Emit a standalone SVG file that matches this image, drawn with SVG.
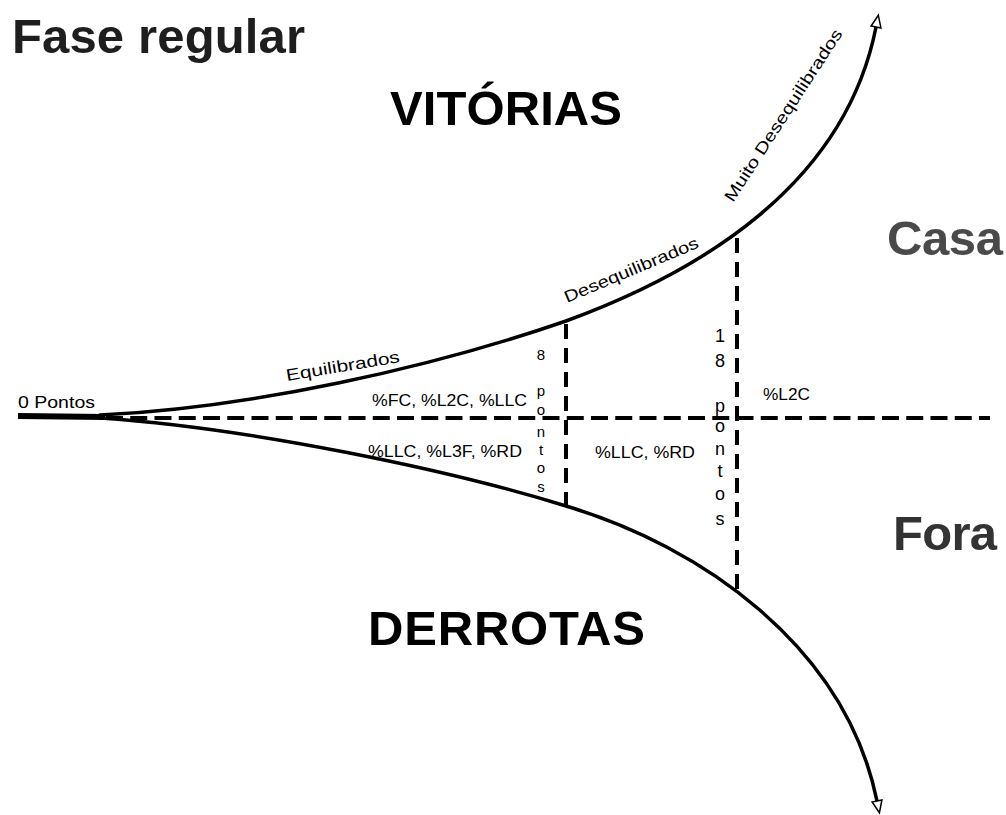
<svg xmlns="http://www.w3.org/2000/svg" width="1006" height="815" viewBox="0 0 1006 815">
<style>
text{font-family:"Liberation Sans",Arial,sans-serif;fill:#000}
.big{font-size:49px;font-weight:bold}
.lbl{font-size:16.5px}
.col1{font-size:15px;text-anchor:middle}
.col2{font-size:18px;text-anchor:middle}
.curve{fill:none;stroke:#000;stroke-width:3.5;stroke-linecap:round}
.dash{fill:none;stroke:#000;stroke-width:4}
</style>
<defs>
<marker id="arr" markerUnits="userSpaceOnUse" markerWidth="16" markerHeight="16" viewBox="-2 -8 16 16" refX="0" refY="0" orient="auto">
<path d="M0,-5 L12,0 L0,5 Z" fill="#fff" stroke="#000" stroke-width="1.5"/>
</marker>
</defs>
<rect width="1006" height="815" fill="#fff"/>
<g id="titles">
<text class="big" x="12" y="53" style="fill:#1e1e1e" textLength="293">Fase regular</text>
<text id="vitorias" class="big" x="390" y="125" textLength="232">VITÓRIAS</text>
<text id="derrotas" class="big" x="368" y="645" textLength="277">DERROTAS</text>
<text id="casa" class="big" x="887" y="255" style="fill:#4a4a4a" textLength="116">Casa</text>
<text id="fora" class="big" x="893" y="550" style="fill:#333" textLength="104">Fora</text>
</g>
<g id="connectors">
<path d="M18,416 L105,417" stroke="#000" stroke-width="6" fill="none"/>
<path id="upper" class="curve" d="M100,415 C250,408 430,368 566,321 C700,272 845,185 876,27" marker-end="url(#arr)"/>
<path id="lower" class="curve" d="M100,418 C250,428 450,470 566,506 C700,546 845,645 877,801" marker-end="url(#arr)"/>
<line class="dash" x1="106" y1="418" x2="990" y2="418" stroke-dasharray="17 7.25"/>
<line class="dash" x1="566" y1="324" x2="566" y2="505" stroke-dasharray="15 9"/>
<line class="dash" x1="737" y1="238" x2="737" y2="590" stroke-dasharray="15 9"/>
</g>
<g id="labels">
<text class="lbl" x="18" y="408" textLength="77" lengthAdjust="spacingAndGlyphs">0 Pontos</text>
<text class="lbl" x="287" y="381" font-size="18" textLength="115" lengthAdjust="spacingAndGlyphs" transform="rotate(-9.5 287 381)">Equilibrados</text>
<text class="lbl" x="567" y="303" textLength="144" lengthAdjust="spacingAndGlyphs" transform="rotate(-22.8 567 303)">Desequilibrados</text>
<text class="lbl" x="733" y="203" textLength="202" lengthAdjust="spacingAndGlyphs" transform="rotate(-57 733 203)">Muito Desequilibrados</text>
<text class="lbl" x="372" y="406" textLength="155" lengthAdjust="spacingAndGlyphs">%FC, %L2C, %LLC</text>
<text class="lbl" x="368" y="457" textLength="154" lengthAdjust="spacingAndGlyphs">%LLC, %L3F, %RD</text>
<text class="lbl" x="595" y="458" textLength="100" lengthAdjust="spacingAndGlyphs">%LLC, %RD</text>
<text class="lbl" x="763" y="400" textLength="47" lengthAdjust="spacingAndGlyphs">%L2C</text>
</g>
<g id="col8">
<text class="col1" x="541" y="360">8</text>
<text class="col1" x="541" y="396">p</text>
<text class="col1" x="541" y="415">o</text>
<text class="col1" x="541" y="437">n</text>
<text class="col1" x="541" y="455">t</text>
<text class="col1" x="541" y="473">o</text>
<text class="col1" x="541" y="492">s</text>
</g>
<g id="col18">
<text class="col2" x="720" y="342">1</text>
<text class="col2" x="720" y="367">8</text>
<text class="col2" x="720" y="412">p</text>
<text class="col2" x="720" y="432">o</text>
<text class="col2" x="720" y="455">n</text>
<text class="col2" x="720" y="477">t</text>
<text class="col2" x="720" y="500">o</text>
<text class="col2" x="720" y="525">s</text>
</g>
</svg>
